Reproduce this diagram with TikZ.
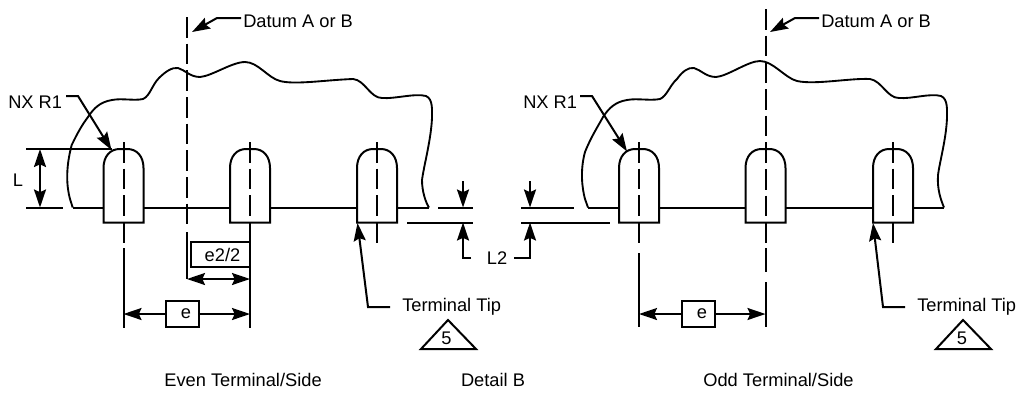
\documentclass[tikz,border=0pt]{standalone}
\usepackage{fontspec}
\setmainfont{Liberation Sans}
\usetikzlibrary{arrows.meta}
\tikzset{
  x=0.75pt,y=-0.75pt,
  ln/.style={line width=1.5pt,line cap=butt,line join=miter},
  body/.style={line width=1.4pt,line join=round},
  cen/.style={ln,dash pattern=on 15.4pt off 4.6pt},
  arr/.style={ln,-{Stealth[length=13.5pt,width=9pt,inset=2pt]}},
  darr/.style={ln,{Stealth[length=13.5pt,width=9pt,inset=2pt]}-{Stealth[length=13.5pt,width=9pt,inset=2pt]}},
  lab/.style={inner sep=0pt,font=\fontsize{13.7}{15}\selectfont},
  lbox/.style={ln,draw,fill=white,inner sep=0pt,font=\fontsize{13.7}{15}\selectfont},
}
\newcommand{\tcell}[2]{%
  \draw[ln,fill=white] (#1-20,207.5) -- (#1-20,222.5) -- (#1+20,222.5) -- (#1+20,207.5) -- (#1+20,168)
     .. controls (#1+20,156) and (#1+13,149) .. (#1+4,149) -- (#1-4,149)
     .. controls (#1-13,149) and (#1-20,156) .. (#1-20,168) -- cycle;
  \node[coordinate] (#2) at (#1,222.5) {};
}
\begin{document}
\begin{tikzpicture}
\useasboundingbox (0,0) rectangle (1019,394);
% housing outlines
\draw[body] (72.7,207.5) -- (70,199) .. controls (67,188) and (65,170) .. (71.7,145)
  .. controls (78,132) and (82,125) .. (88,117)
  .. controls (94,108) and (100,102) .. (112,100)
  .. controls (122,98) and (134,101) .. (143,99)
  .. controls (150,96) and (152,85) .. (159,78)
  .. controls (165,72) and (172,67) .. (178,68)
  .. controls (185,70) and (190,77) .. (200,77)
  .. controls (212,76) and (232,62) .. (245,62)
  .. controls (258,62) and (268,78) .. (280,81)
  .. controls (295,85) and (325,80) .. (353,79)
  .. controls (365,80) and (370,98) .. (382,98)
  .. controls (395,99) and (415,93) .. (426,96)
  .. controls (433,99) and (432,110) .. (432,118)
  .. controls (431,140) and (424,165) .. (422,180)
  .. controls (422,192) and (426,203) .. (429,207.5);
\draw[body] (588,207.5) -- (585,199) .. controls (582,188) and (580,170) .. (585,152)
  .. controls (591,137) and (597,128) .. (603,117)
  .. controls (609,108) and (615,102) .. (627,100)
  .. controls (637,98) and (650,101) .. (660,99)
  .. controls (667,96) and (670,85) .. (677,79)
  .. controls (682,72) and (688,67) .. (694,68)
  .. controls (701,70) and (706,77) .. (716,77)
  .. controls (728,76) and (748,61) .. (760,61)
  .. controls (773,61) and (785,78) .. (797,81)
  .. controls (815,85) and (850,78) .. (870,79)
  .. controls (882,81) and (887,98) .. (899,98)
  .. controls (912,99) and (930,93) .. (941,96)
  .. controls (948,99) and (947,110) .. (947,118)
  .. controls (946,140) and (940,160) .. (938,175)
  .. controls (937,190) and (941,200) .. (944,207.5);
% baselines and extension lines
\draw[ln] (72.7,207.5) -- (429,207.5);
\draw[ln] (588,207.5) -- (944,207.5);
\draw[ln] (438,207.5) -- (472.7,207.5);
\draw[ln] (407,222.5) -- (472.7,222.5);
\draw[ln] (521,207.5) -- (574.3,207.5);
\draw[ln] (521,222.5) -- (610,222.5);
\draw[ln] (26,149) -- (112,149);
\draw[ln] (26,207.5) -- (63,207.5);
% terminals
\tcell{123.5}{ta}
\tcell{250}{tb}
\tcell{377}{tc}
\tcell{639}{td}
\tcell{765.5}{te}
\tcell{893}{tf}
% center lines
\draw[cen] (123.5,142) -- (123.5,244);
\draw[ln] (123.5,248) -- (123.5,328);
\draw[cen] (250,142) -- (250,217);
\draw[ln] (250,223) -- (250,328);
\draw[cen] (377,142) -- (377,244);
\draw[cen] (639,142) -- (639,244);
\draw[ln] (639,253) -- (639,327);
\draw[cen] (893,142) -- (893,244);
\draw[cen] (187,17) -- (187,225);
\draw[ln] (187,232) -- (187,279);
\draw[cen] (765.5,9) -- (765.5,244);
\draw[ln] (765.5,248) -- (765.5,272) (765.5,282) -- (765.5,327);
% datum leaders
\node[lab,anchor=west] (dl) at (243,21) {Datum A or B};
\node[lab,anchor=west] (dr) at (821,21) {Datum A or B};
\coordinate (dlt) at (192,32);
\coordinate (drt) at (770,32);
\draw[arr] (dl.west) ++(-2,-3) -- (217,18) -- (dlt);
\draw[arr] (dr.west) ++(-2,-3) -- (795,18) -- (drt);
% NX R1
\node[lab,anchor=west] (nl) at (8,102) {NX R1};
\node[lab,anchor=west] (nr) at (523,102) {NX R1};
\coordinate (nlt) at (111.5,150);
\coordinate (nrt) at (627,151.5);
\draw[arr] (66,96) -- (78,96) -- (nlt);
\draw[arr] (580,96) -- (592,96) -- (nrt);
% L
\coordinate (la) at (40,149);
\coordinate (lb) at (40,207.5);
\draw[darr] (la) -- (lb);
\node[lab] (ll) at (18,180) {L};
% dimensions e2/2 and e
\node[lbox,minimum width=44pt,minimum height=19pt] (ebox) at (220.5,254.5) {\hspace*{3pt}e2/2};
\coordinate (ea) at (187,279);
\coordinate (eb) at (250,279);
\draw[darr] (ea) -- (eb);
\node[lbox,minimum width=25pt,minimum height=19pt] (e1) at (182.5,314) {\hspace*{5pt}e};
\node[lbox,minimum width=25pt,minimum height=19pt] (e2) at (698.5,314) {\hspace*{5pt}e};
\coordinate (e1a) at (123.5,314);
\coordinate (e1b) at (250,314);
\coordinate (e2a) at (639,314);
\coordinate (e2b) at (765.5,314);
\draw[arr] (e1) -- (e1a);
\draw[arr] (e1) -- (e1b);
\draw[arr] (e2) -- (e2a);
\draw[arr] (e2) -- (e2b);
% L2
\node[lab] (l2) at (497,258) {L2};
\coordinate (l2a) at (463,222.5);
\coordinate (l2b) at (530,222.5);
\draw[arr] (471,258) -- (463,258) -- (l2a);
\draw[arr] (514,258) -- (530,258) -- (l2b);
\coordinate (l2c) at (463,207.5);
\coordinate (l2d) at (530,207.5);
\draw[arr] (463,181) -- (l2c);
\draw[arr] (530,181) -- (l2d);
% terminal tip
\node[lab,anchor=west] (tl) at (402,307) {Terminal Tip};
\node[lab,anchor=west] (tr) at (917,307) {Terminal Tip};
\coordinate (ttl) at (357.5,223);
\coordinate (ttr) at (873,223);
\draw[arr] (390,307) -- (368,307) -- (ttl);
\draw[arr] (905,307) -- (883,307) -- (ttr);
% triangles
\coordinate (a1) at (448,320);
\coordinate (b1) at (421,349);
\coordinate (c1) at (476,349);
\coordinate (a2) at (963,320);
\coordinate (b2) at (936,349);
\coordinate (c2) at (991,349);
\draw[ln] (a1) -- (b1) -- (c1) -- cycle;
\draw[ln] (a2) -- (b2) -- (c2) -- cycle;
\node[lab] (f1) at (446.5,338) {5};
\node[lab] (f2) at (962,338) {5};
% titles
\node[lab] (t1) at (243,380) {Even Terminal/Side};
\node[lab] (t2) at (493,380) {Detail B};
\node[lab] (t3) at (778.5,380) {Odd Terminal/Side};
\end{tikzpicture}
\end{document}
